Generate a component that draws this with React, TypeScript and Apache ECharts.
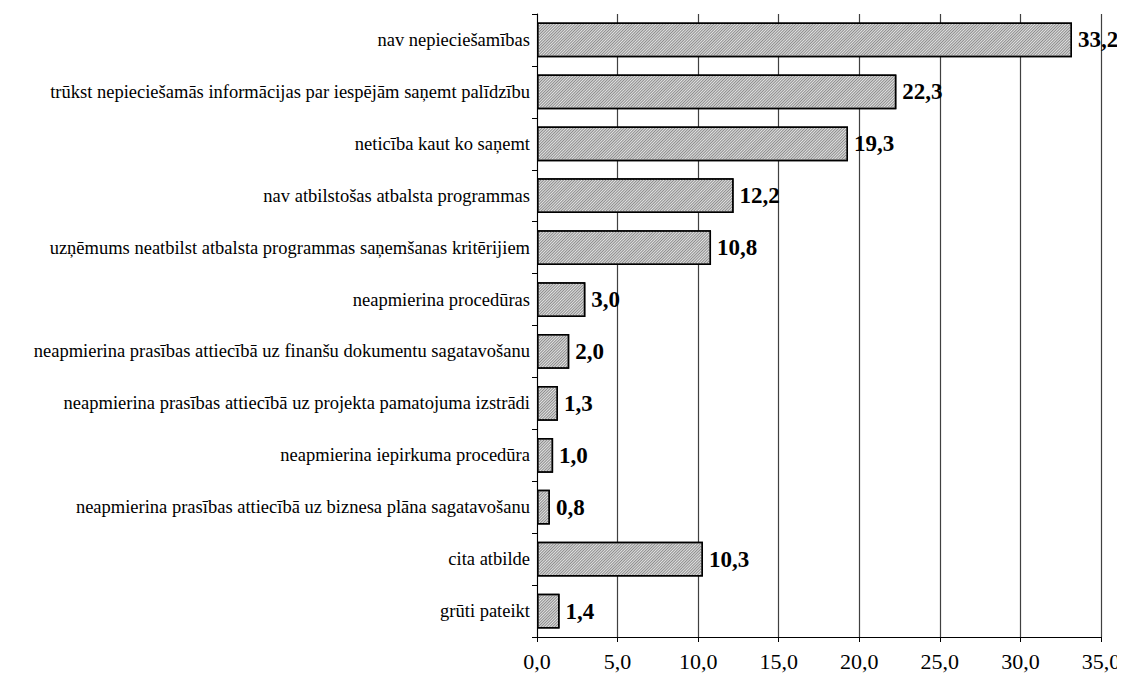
import React, { useEffect, useRef } from "react";
import * as echarts from "echarts";

const categories = [
  "nav nepieciešamības",
  "trūkst nepieciešamās informācijas par iespējām saņemt palīdzību",
  "neticība kaut ko saņemt",
  "nav atbilstošas atbalsta programmas",
  "uzņēmums neatbilst atbalsta programmas saņemšanas kritērijiem",
  "neapmierina procedūras",
  "neapmierina prasības attiecībā uz finanšu dokumentu sagatavošanu",
  "neapmierina prasības attiecībā uz projekta pamatojuma izstrādi",
  "neapmierina iepirkuma procedūra",
  "neapmierina prasības attiecībā uz biznesa plāna sagatavošanu",
  "cita atbilde",
  "grūti pateikt",
];
const values = [33.2, 22.3, 19.3, 12.2, 10.8, 3.0, 2.0, 1.3, 1.0, 0.8, 10.3, 1.4];

const fmt = (v: number) => v.toFixed(1).replace(".", ",");
const SERIF = "'Liberation Serif', 'DejaVu Serif', serif";

export default function App() {
  const ref = useRef<HTMLDivElement>(null);
  useEffect(() => {
    const chart = echarts.init(ref.current!, null, { renderer: "svg" });
    chart.setOption({
      animation: false,
      grid: { left: 529, right: 24, top: 6, bottom: 44, outerBoundsMode: "none" },
      xAxis: {
        type: "value",
        min: 0,
        max: 35,
        interval: 5,
        axisLine: { show: true, lineStyle: { color: "#000", width: 1 } },
        axisTick: { show: true, length: 5, lineStyle: { color: "#000" } },
        axisLabel: {
          formatter: (v: number) => fmt(v),
          fontFamily: SERIF,
          fontSize: 22,
          color: "#000",
          margin: 13,
        },
        splitLine: { show: true, lineStyle: { color: "#404040", width: 1.2 } },
      },
      yAxis: {
        type: "category",
        inverse: true,
        data: categories,
        axisLine: { show: true, lineStyle: { color: "#000", width: 1 } },
        axisTick: { show: true, length: 5, lineStyle: { color: "#000" } },
        axisLabel: {
          fontFamily: SERIF,
          fontSize: 18.5,
          color: "#000",
          margin: 7,
        },
      },
      series: [
        {
          type: "bar",
          data: values,
          barCategoryGap: "33%",
          itemStyle: {
            color: "#e2e2e2",
            borderColor: "#000",
            borderWidth: 1.5,
            decal: {
              symbol: "rect",
              color: "#8c8c8c",
              dashArrayX: [1, 0],
              dashArrayY: [1, 1],
              rotation: -Math.PI / 4,
            },
          },
          label: {
            show: true,
            position: "right",
            distance: 6,
            formatter: (p: any) => fmt(p.value),
            fontFamily: SERIF,
            fontSize: 23,
            fontWeight: "bold",
            color: "#000",
          },
        },
      ],
    });
    return () => chart.dispose();
  }, []);
  return (
    <div
      ref={ref}
      style={{ width: 1117, height: 673, marginBottom: -8, marginRight: -8 }}
    />
  );
}
